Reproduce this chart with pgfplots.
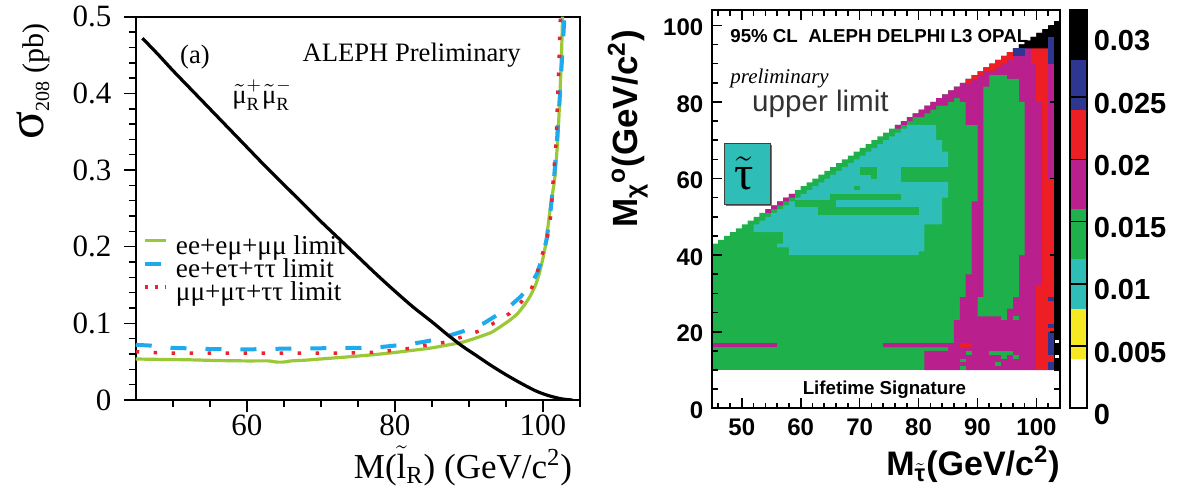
\documentclass[border=0pt]{standalone}
\usepackage{pgfplots}
\pgfplotsset{compat=1.18}
\usepackage{fontspec}
\usepackage{amsmath}
\setmainfont{Liberation Serif}
\newfontfamily\hel{Liberation Sans}
\definecolor{mgreen}{RGB}{30,176,74}
\definecolor{mcyan}{RGB}{46,190,183}
\definecolor{mmag}{RGB}{185,31,141}
\definecolor{mred}{RGB}{237,30,36}
\definecolor{mblue}{RGB}{45,55,145}
\definecolor{myellow}{RGB}{246,232,35}
\definecolor{lgreen}{RGB}{155,200,55}
\definecolor{lblue}{RGB}{30,170,235}
\definecolor{lred}{RGB}{235,35,45}
\begin{document}
\begin{tikzpicture}
\useasboundingbox (0,0) rectangle (590.5pt,246.5pt);
% ================= LEFT PANEL =================
\begin{axis}[
  at={(67.85pt,46.5pt)}, anchor=south west,
  scale only axis, width=222.15pt, height=191.65pt,
  xmin=45, xmax=105, ymin=0, ymax=0.5,
  clip mode=individual,
  axis line style={line width=0.8pt},
  xtick={60,80,100}, minor xtick={50,55,65,70,75,85,90,95,105},
  ytick={0,0.1,0.2,0.3,0.4,0.5}, minor y tick num=4,
  tick align=outside, xtick pos=bottom, ytick pos=left,
  major tick length=6pt, minor tick length=3.5pt,
  every tick/.style={line width=0.8pt, black},
  ticklabel style={font=\fontsize{15.5}{16}\selectfont},
  /pgf/number format/assume math mode=true,
  yticklabel style={/pgf/number format/fixed, /pgf/number format/precision=1, inner sep=1pt, xshift=-5pt},
  xticklabel style={inner sep=1pt},
  legend style={at={(axis description cs:0.0164,0.3366)}, anchor=west, draw=none, fill=none,
    inner sep=0pt, outer sep=0pt,
    nodes={inner sep=0pt, text height=9pt, text depth=2.5pt, font=\fontsize{13.6}{14}\selectfont}},
  legend cell align=left,
]
\addplot[lgreen, line width=1.6pt, smooth, tension=0.3,
  legend image code/.code={\draw[lgreen, line width=1.6pt] (0pt,3.6pt) -- (10.5pt,3.6pt); \path (14.5pt,0pt);}]
  coordinates {(45,0.0535) (48,0.053) (52,0.0525) (56,0.0515) (60,0.051) (63,0.051) (64,0.0495) (65,0.0495) (66,0.051) (68,0.052) (71,0.0543) (74,0.0565) (77,0.059) (80,0.062) (83,0.0655) (85,0.068) (87,0.0715) (89,0.075) (91,0.081) (93,0.088) (94,0.094) (95.5,0.104) (96.5,0.112) (97.5,0.124) (98.3,0.136) (99,0.150) (99.5,0.165) (100,0.185) (100.4,0.205) (100.9,0.2435) (101.3,0.27) (101.6,0.29) (102.0,0.34) (102.3,0.40) (102.5,0.45) (102.65,0.50)};
\addlegendentry{ee+eμ+μμ limit}
\addplot[lblue, line width=2pt, dash pattern=on 8pt off 9.5pt,
  legend image code/.code={\draw[lblue, line width=2pt] (0pt,3.6pt) -- (10.5pt,3.6pt); \path (14.5pt,0pt);}]
  coordinates {(45,0.072) (47,0.071) (48,0.069) (50,0.068) (55,0.0665) (60,0.066) (65,0.067) (70,0.0675) (75,0.068) (78,0.069) (80,0.071) (82,0.073) (84,0.076) (86,0.080) (88,0.086) (90,0.092) (92,0.100) (94,0.112) (95.5,0.122) (97,0.135) (98.3,0.150) (99.2,0.165) (99.9,0.185) (100.5,0.21) (101,0.245) (101.5,0.29) (101.9,0.34) (102.3,0.40) (102.6,0.45) (102.9,0.50)};
\addlegendentry{ee+eτ+ττ limit}
\addplot[lred, line width=1.75pt, dash pattern=on 1.75pt off 7.25pt,
  legend image code/.code={\draw[lred, line width=1.75pt, dash pattern=on 1.75pt off 3.25pt] (0pt,3.6pt) -- (10.5pt,3.6pt); \path (14.5pt,0pt);}]
  coordinates {(45,0.063) (47,0.062) (50,0.061) (55,0.061) (60,0.061) (65,0.061) (70,0.061) (72,0.061) (75,0.0615) (77,0.0622) (80,0.065) (82,0.0674) (84,0.071) (86.7,0.0752) (89,0.082) (91.4,0.0901) (93.5,0.101) (95.5,0.113) (97,0.127) (98.4,0.144) (99.2,0.165) (99.7,0.184) (100.4,0.2043) (100.8,0.222) (101.1,0.245) (101.4,0.29) (101.8,0.34) (102.0,0.40) (102.2,0.45) (102.35,0.50)};
\addlegendentry{μμ+μτ+ττ limit}
\addplot[black, line width=1.6pt, smooth, forget plot]
  coordinates {(45.9,0.472) (48,0.451) (50,0.430) (52.5,0.405) (55,0.380) (57.5,0.355) (60,0.330) (62.5,0.305) (65,0.281) (67.5,0.257) (70,0.233) (72.5,0.210) (75,0.187) (77.5,0.164) (80,0.142) (82.5,0.121) (85,0.102) (87,0.086) (89,0.071) (91,0.058) (93,0.045) (95,0.033) (97,0.022) (99,0.012) (100.5,0.0065) (102,0.0025) (103,0.0008) (104,0)};
\node[anchor=base, font=\fontsize{13.3}{14}\selectfont] at (axis cs:53.0,0.4395) {(a)};
\node[anchor=base west, font=\fontsize{13.3}{14}\selectfont] at (axis cs:66.6,0.441) {ALEPH Preliminary};
\node[anchor=base west, font=\fontsize{13.3}{14}\selectfont] at (axis cs:57.1,0.3874) {$\tilde{\text{μ}}^{+}_{\text{R}}\tilde{\text{μ}}^{-}_{\text{R}}$};
\node[rotate=90, anchor=east, font=\fontsize{15}{15}\selectfont] at (axis description cs:-0.231,1.0)
  {{\fontsize{26}{26}\selectfont σ}\raisebox{-3pt}{\fontsize{10}{10}\selectfont 208} (pb)};
\node[anchor=base east, font=\fontsize{17.5}{18}\selectfont] at (axis description cs:0.998,-0.2035)
  {M($\tilde{\text{l}}$\textsubscript{R}) (GeV/c\textsuperscript{2})};
\end{axis}
% ================= RIGHT PANEL =================
\begin{axis}[
  at={(356.15pt,42.35pt)}, anchor=south west,
  scale only axis, width=173.85pt, height=199.15pt,
  xmin=45, xmax=104, ymin=0, ymax=104,
  clip mode=individual, axis on top,
  axis line style={line width=1pt},
  xtick={50,60,70,80,90,100}, minor xtick={46,48,...,104},
  ytick={0,20,40,60,80,100}, minor ytick={5,10,...,100},
  tick align=inside, major tick length=5pt, minor tick length=2.8pt,
  every tick/.style={line width=0.8pt, black},
  ticklabel style={font=\hel\bfseries\fontsize{12}{12}\selectfont},
  /pgf/number format/assume math mode=true,
  yticklabel style={xshift=-1pt, yshift=-1pt},
  xticklabel style={yshift=-1.5pt},
]
% green base (staircase kinematic edge)
\addplot[const plot, fill=mgreen, draw=none] coordinates {(45,43)(46,44)(47,45)(48,46)(49,47)(50,48)(51,49)(52,50)(53,51)(54,52)(55,53)(56,54)(57,55)(58,56)(59,57)(60,58)(61,59)(62,60)(63,61)(64,62)(65,63)(66,64)(67,65)(68,66)(69,67)(70,68)(71,69)(72,70)(73,71)(74,72)(75,73)(76,74)(77,75)(78,76)(79,77)(80,78)(81,79)(82,80)(83,81)(84,82)(85,83)(86,84)(87,85)(88,86)(89,87)(90,88)(91,89)(92,90)(93,91)(94,92)(95,93)(96,94)(97,95)(98,96)(99,97)(100,98)(101,99)(102,100)(103,101)(104,101)} \closedcycle;
\addplot[fill=white, draw=none] coordinates {(44,0)(105,0)(105,10)(44,10)} --cycle;
% cyan
\addplot[fill=mcyan, draw=none] coordinates {(58,40)(80,40)(80,41)(81,41)(81,48)(84,48)(84,55)(85,55)(85,67)(84,67)(84,70)(83,70)(83,74)(78,74)(78,73)(77,73)(77,72)(76,72)(76,71)(75,71)(75,70)(74,70)(74,69)(73,69)(73,68)(72,68)(72,67)(71,67)(71,66)(70,66)(70,65)(69,65)(69,64)(68,64)(68,63)(67,63)(67,62)(66,62)(66,61)(65,61)(65,60)(64,60)(64,59)(63,59)(63,58)(62,58)(62,57)(61,57)(61,56)(60,56)(60,55)(59,55)(59,54)(58,54)(58,53)(57,53)(57,52)(56,52)(56,51)(55,51)(55,50)(54,50)(54,49)(53,49)(53,48)(52,48)(52,46)(57,46)(57,43)(56,43)(56,42)(58,42)} --cycle;
% green stripes inside cyan
\addplot[fill=mgreen, draw=none] coordinates {(65,54.5)(77,54.5)(77,56)(65,56)} --cycle;
\addplot[fill=mgreen, draw=none] coordinates {(59,52.5)(66,52.5)(66,54.5)(59,54.5)} --cycle;
\addplot[fill=mgreen, draw=none] coordinates {(63,50.5)(80,50.5)(80,52.5)(63,52.5)} --cycle;
\addplot[fill=mgreen, draw=none] coordinates {(70,61)(73,61)(73,63)(70,63)} --cycle;
\addplot[fill=mgreen, draw=none] coordinates {(77,59)(86,59)(86,63)(77,63)} --cycle;
\addplot[fill=mgreen, draw=none] coordinates {(72,60)(73,60)(73,61)(72,61)} --cycle;
\addplot[fill=mgreen, draw=none] coordinates {(69,57)(70,57)(70,58)(69,58)} --cycle;
% magenta edge cells (left)
\addplot[fill=mmag, draw=none] coordinates {(54,52)(55,52)(55,53)(56,53)(56,54)(57,54)(57,55)(58,55)(58,56)(59,56)(59,55)(58,55)(58,54)(57,54)(57,53)(56,53)(56,52)(55,52)(55,51)(54,51)} --cycle;
% big magenta region
\addplot[fill=mmag, draw=none] coordinates {(81,10)(81,15)(85,15)(85,16)(74,16)(74,17)(86,17)(86,23)(87,23)(87,29)(88,29)(88,35)(89,35)(89,54)(90,54)(90,74)(88,74)(88,80)(87,80)(87,81)(86,81)(86,80)(85,80)(85,79)(83,79)(83,78)(82,78)(82,77)(81,77)(81,76)(79,76)(79,75)(78,75)(78,74)(77,74)(77,73)(76,73)(76,74)(77,74)(77,75)(78,75)(78,76)(79,76)(79,77)(80,77)(80,78)(81,78)(81,79)(82,79)(82,80)(83,80)(83,81)(84,81)(84,82)(85,82)(85,83)(86,83)(86,84)(87,84)(87,85)(88,85)(88,86)(89,86)(89,87)(90,87)(90,88)(91,88)(91,89)(92,89)(92,90)(93,90)(93,91)(94,91)(94,92)(95,92)(95,93)(96,93)(96,94)(97,94)(97,95)(98,95)(98,96)(99,96)(99,97)(100,97)(100,98)(101,98)(101,99)(102,99)(102,100)(103,100)(103,101)(104,101)(104,10)} --cycle;
% magenta line left
\addplot[fill=mmag, draw=none] coordinates {(45,16)(56,16)(56,17)(45,17)} --cycle;
% second green region
\addplot[fill=mgreen, draw=none] coordinates {(91,84)(92,84)(92,87)(95,87)(95,86)(97,86)(97,80)(98,80)(98,40)(97,40)(97,29)(96,29)(96,26)(95,26)(95,24)(90,24)(90,29)(91,29)} --cycle;
% green specks
\addplot[fill=mgreen, draw=none] coordinates {(88,14)(89,14)(89,15)(88,15)} --cycle;
\addplot[fill=mgreen, draw=none] coordinates {(87,12)(88,12)(88,13)(87,13)} --cycle;
\addplot[fill=mgreen, draw=none] coordinates {(87,10)(88,10)(88,11)(87,11)} --cycle;
\addplot[fill=mgreen, draw=none] coordinates {(92,14)(96,14)(96,15)(92,15)} --cycle;
\addplot[fill=mgreen, draw=none] coordinates {(96,13)(97,13)(97,14)(96,14)} --cycle;
\addplot[fill=mgreen, draw=none] coordinates {(94,13)(95,13)(95,14)(94,14)} --cycle;
\addplot[fill=mgreen, draw=none] coordinates {(93,11)(94,11)(94,12)(93,12)} --cycle;
\addplot[fill=mgreen, draw=none] coordinates {(94,23)(95,23)(95,24)(94,24)} --cycle;
\addplot[fill=mgreen, draw=none] coordinates {(96,23)(97,23)(97,24)(96,24)} --cycle;
% red
\addplot[fill=mred, draw=none] coordinates {(87,16)(89,16)(89,17)(87,17)} --cycle;
\addplot[fill=mred, draw=none] coordinates {(88,86)(89,86)(89,87)(90,87)(90,88)(91,88)(91,89)(92,89)(92,90)(93,90)(93,91)(94,91)(94,92)(95,92)(95,93)(96,93)(96,91)(95,91)(95,90)(94,90)(94,89)(93,89)(93,88)(91,88)(91,87)(90,87)(90,86)(89,86)(89,85)(88,85)} --cycle;
\addplot[fill=mred, draw=none] coordinates {(100,80)(102,80)(102,94)(100,94)} --cycle;
\addplot[fill=mred, draw=none] coordinates {(99,90)(100,90)(100,94)(99,94)} --cycle;
\addplot[fill=mred, draw=none] coordinates {(101,10)(103,10)(103,80)(101,80)} --cycle;
\addplot[fill=mred, draw=none] coordinates {(100,10)(101,10)(101,32)(100,32)} --cycle;
\addplot[fill=mmag, draw=none] coordinates {(102,60)(103,60)(103,80)(102,80)} --cycle;
% black
\addplot[fill=black, draw=none] coordinates {(97,94)(97,95)(98,95)(98,96)(99,96)(99,97)(100,97)(100,98)(101,98)(101,99)(102,99)(102,100)(103,100)(103,101)(104,101)(104,94)} --cycle;
\addplot[fill=black, draw=none] coordinates {(103,10)(104,10)(104,101)(103,101)} --cycle;
% blue
\addplot[fill=mblue, draw=none] coordinates {(96,92)(98,92)(98,94)(96,94)} --cycle;
\addplot[fill=mblue, draw=none] coordinates {(102,90)(103,90)(103,97)(102,97)} --cycle;
\addplot[fill=mblue, draw=none] coordinates {(102,10)(103,10)(103,12)(102,12)} --cycle;
\addplot[fill=mblue, draw=none] coordinates {(102,14)(103,14)(103,20)(102,20)} --cycle;
\addplot[fill=mblue, draw=none] coordinates {(102,21)(103,21)(103,22)(102,22)} --cycle;
\addplot[fill=mblue, draw=none] coordinates {(102,28)(103,28)(103,29)(102,29)} --cycle;
\addplot[fill=white, draw=none] coordinates {(103.2,17)(104,17)(104,17.8)(103.2,17.8)} --cycle;
\addplot[fill=white, draw=none] coordinates {(103.2,13.2)(104,13.2)(104,14)(103.2,14)} --cycle;
% annotations
\node[anchor=base west, font=\hel\bfseries\fontsize{9.35}{10}\selectfont, inner sep=0pt] at (axis cs:48,95.4) {95\% CL\ \ ALEPH DELPHI L3 OPAL};
\node[anchor=base west, font=\itshape\fontsize{10.5}{11}\selectfont, inner sep=0pt] at (axis cs:48,84.7) {preliminary};
\node[anchor=base west, font=\hel\fontsize{14.8}{15}\selectfont, text=black!80, inner sep=0pt] at (axis cs:51.7,77.4) {upper limit};
\fill[black!55] (axis cs:47.25,52.9) rectangle (axis cs:55.15,68.8);
\filldraw[fill=mcyan, draw=black!75, line width=0.5pt] (axis cs:47,53.3) rectangle (axis cs:54.9,69.2);
\node[font=\fontsize{24}{24}\selectfont] at (axis cs:50.4,61.3) {$\tilde{\text{τ}}$};
\node[anchor=base, font=\hel\bfseries\fontsize{9.35}{10}\selectfont, inner sep=0pt] at (axis cs:74.2,3.5) {Lifetime Signature};
\node[rotate=90, anchor=east, font=\hel\bfseries\fontsize{17.5}{17}\selectfont] at (axis description cs:-0.243,0.967)
  {M\textsubscript{χ}\textsuperscript{o}(GeV/c\textsuperscript{2})};
\node[anchor=base east, font=\hel\bfseries\fontsize{17}{17}\selectfont, inner sep=0pt] at (axis description cs:1,-0.1675)
  {M\textsubscript{$\tilde{\text{τ}}$}(GeV/c\textsuperscript{2})};
\end{axis}
% ================= COLOR BAR =================
\begin{axis}[
  at={(535pt,42.35pt)}, anchor=south west,
  scale only axis, width=8.35pt, height=199.15pt,
  xmin=0, xmax=1, ymin=0, ymax=0.032,
  axis on top, axis line style={line width=1pt},
  scaled y ticks=false,
  xtick=\empty,
  ytick={0,0.005,0.01,0.015,0.02,0.025,0.03},
  yticklabels={0,0.005,0.01,0.015,0.02,0.025,0.03},
  ytick pos=right, yticklabel pos=right, tick align=inside,
  major tick length=8.35pt,
  every tick/.style={line width=0.8pt, black},
  ticklabel style={font=\hel\bfseries\fontsize{14.5}{15}\selectfont},
  yticklabel style={yshift=-3pt},
]
\addplot[fill=white, draw=none] coordinates {(0,0)(1,0)(1,0.004)(0,0.004)} --cycle;
\addplot[fill=myellow, draw=none] coordinates {(0,0.004)(1,0.004)(1,0.008)(0,0.008)} --cycle;
\addplot[fill=mcyan, draw=none] coordinates {(0,0.008)(1,0.008)(1,0.012)(0,0.012)} --cycle;
\addplot[fill=mgreen, draw=none] coordinates {(0,0.012)(1,0.012)(1,0.016)(0,0.016)} --cycle;
\addplot[fill=mmag, draw=none] coordinates {(0,0.016)(1,0.016)(1,0.020)(0,0.020)} --cycle;
\addplot[fill=mred, draw=none] coordinates {(0,0.020)(1,0.020)(1,0.024)(0,0.024)} --cycle;
\addplot[fill=mblue, draw=none] coordinates {(0,0.024)(1,0.024)(1,0.028)(0,0.028)} --cycle;
\addplot[fill=black, draw=none] coordinates {(0,0.028)(1,0.028)(1,0.032)(0,0.032)} --cycle;
\end{axis}
\end{tikzpicture}
\end{document}
